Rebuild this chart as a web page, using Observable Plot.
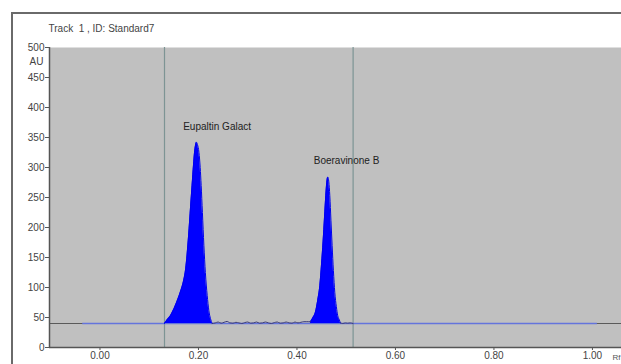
<!DOCTYPE html>
<html>
<head>
<meta charset="utf-8">
<script src="https://cdn.jsdelivr.net/npm/d3@7"></script>
<script src="https://cdn.jsdelivr.net/npm/@observablehq/plot@0.6"></script>
<style>
  html, body { margin: 0; padding: 0; background: #fff; overflow: hidden; }
  #wrap { position: relative; width: 621px; height: 364px; }
  #border { position: absolute; left: 11px; top: 12px; width: 620px; height: 360px;
            border-top: 2px solid #6a6a6a; border-left: 2px solid #6a6a6a; box-sizing: border-box; pointer-events: none; }
  svg { position: absolute; left: 0; top: 0; }
</style>
</head>
<body>
<div id="wrap"><div id="border"></div></div>
<script>
// ---- data ----
const title = "Track  1 , ID: Standard7";
const baselineAU = 40;

const peak1X = [0.131, 0.136, 0.143, 0.153, 0.163, 0.170, 0.174, 0.180, 0.184, 0.187, 0.190, 0.192, 0.194, 0.196, 0.198, 0.201, 0.2035, 0.2055, 0.208, 0.211, 0.214, 0.2177, 0.221, 0.2244, 0.2278];
const peak1Y = [40, 46, 53, 70, 92, 112, 131, 187, 235, 270, 305, 325, 337, 342, 338, 325, 300, 270, 225, 170, 125, 87, 62, 48, 40];

const noiseX = [0.228, 0.234, 0.240, 0.246, 0.252, 0.258, 0.264, 0.270, 0.276, 0.282, 0.288, 0.294, 0.300, 0.306, 0.312, 0.318, 0.324, 0.330, 0.336, 0.342, 0.348, 0.354, 0.360, 0.366, 0.372, 0.378, 0.384, 0.390, 0.396, 0.402, 0.408, 0.414, 0.420, 0.4274];
const noiseY = [40, 41, 42.5, 40.5, 42, 43.5, 41, 40.5, 42, 41, 40, 41.5, 42.5, 40.5, 41, 42.5, 40.5, 41, 42.5, 41, 40, 41.5, 42.5, 40.5, 41, 42.5, 41, 40.5, 42.5, 41, 42, 43, 43, 43];

const peak2X = [0.4274, 0.432, 0.4376, 0.442, 0.4464, 0.450, 0.453, 0.456, 0.4585, 0.4605, 0.4626, 0.4647, 0.4667, 0.469, 0.4714, 0.474, 0.4768, 0.480, 0.4828, 0.486, 0.4883];
const peak2Y = [43, 49, 59, 78, 103, 140, 176, 218, 253, 275, 284, 276, 253, 212, 170, 128, 92, 68, 53, 46, 41];

const tailX = [0.4883, 0.493, 0.498, 0.503, 0.508, 0.514];
const tailY = [41, 40, 41, 40.5, 41, 40];

const boundaryX = [0.131, 0.514];
const blueBaseX = [-0.035, 1.01];

const peakNames = ["Eupaltin Galact", "Boeravinone B"];
const peakLabelX = [0.169, 0.434];
const peakLabelY = [368, 312];

const xTicks = [0, 0.2, 0.4, 0.6, 0.8, 1.0];
const yTicks = [0, 50, 100, 150, 200, 250, 300, 350, 400, 450, 500];
const xDomain = [-0.1025, 1.059];
const yDomain = [0, 500];

// ---- build ----
const toRows = (xs, ys) => xs.map((x, i) => ({x, y: ys[i]}));
const peak1 = toRows(peak1X, peak1Y);
const peak2 = toRows(peak2X, peak2Y);
const noise = toRows(noiseX, noiseY);
const tail = toRows(tailX, tailY);
const labels = peakNames.map((n, i) => ({name: n, x: peakLabelX[i], y: peakLabelY[i]}));
const blueBase = [{x1: blueBaseX[0], x2: blueBaseX[1], y: baselineAU}];

const font = "'Liberation Sans', Arial, sans-serif";

const chart = Plot.plot({
  width: 621,
  height: 364,
  marginLeft: 49,
  marginRight: 0,
  marginTop: 47,
  marginBottom: 17,
  style: {fontFamily: font, fontSize: "10px", color: "#444", background: "transparent", overflow: "visible"},
  x: {domain: xDomain, ticks: xTicks, tickFormat: d3.format(".2f")},
  y: {domain: yDomain, ticks: yTicks},
  marks: [
    Plot.frame({fill: "#c0c0c0", stroke: null}),
    Plot.ruleX(boundaryX, {stroke: "#7d9494", strokeWidth: 1.2}),
    Plot.ruleY([baselineAU], {stroke: "#5a5a5a", strokeWidth: 1}),
    Plot.ruleY(blueBase, {x1: "x1", x2: "x2", y: "y", stroke: "#6474dc", strokeWidth: 1.4}),
    Plot.areaY(peak1, {x: "x", y1: baselineAU, y2: "y", fill: "#0000ff", curve: "monotone-x"}),
    Plot.lineY(peak1, {x: "x", y: "y", stroke: "#0000ee", strokeWidth: 1, curve: "monotone-x"}),
    Plot.areaY(peak2, {x: "x", y1: baselineAU, y2: "y", fill: "#0000ff", curve: "monotone-x"}),
    Plot.lineY(peak2, {x: "x", y: "y", stroke: "#0000ee", strokeWidth: 1, curve: "monotone-x"}),
    Plot.lineY(noise, {x: "x", y: "y", stroke: "#3c3c78", strokeWidth: 1, curve: "monotone-x"}),
    Plot.lineY(tail, {x: "x", y: "y", stroke: "#3c3c78", strokeWidth: 1, curve: "monotone-x"}),
    Plot.ruleX([xDomain[0]], {stroke: "#555", strokeWidth: 1.5}),
    Plot.ruleY([yDomain[0]], {stroke: "#555", strokeWidth: 1.5}),
    Plot.axisY({ticks: yTicks, tickSize: 4, tickPadding: 1, label: null, stroke: "#555", fill: "#444", fontSize: 10}),
    Plot.axisX({ticks: xTicks, tickSize: 3, tickPadding: 1, tickFormat: d3.format(".2f"), label: null, stroke: "#555", fill: "#444", fontSize: 10}),
    Plot.text(labels, {x: "x", y: "y", text: "name", textAnchor: "start", fill: "#222", fontSize: 10}),
    Plot.text(["AU"], {frameAnchor: "top-left", dx: -13, dy: 10, textAnchor: "middle", fill: "#444", fontSize: 10}),
    Plot.text([title], {frameAnchor: "top-left", dx: -1, dy: -23, textAnchor: "start", fill: "#444", fontSize: 10}),
    Plot.text(["Rf"], {frameAnchor: "bottom-right", dx: -1, dy: 12, textAnchor: "end", fill: "#555", fontSize: 8})
  ]
});
document.getElementById("wrap").appendChild(chart);
</script>
</body>
</html>
